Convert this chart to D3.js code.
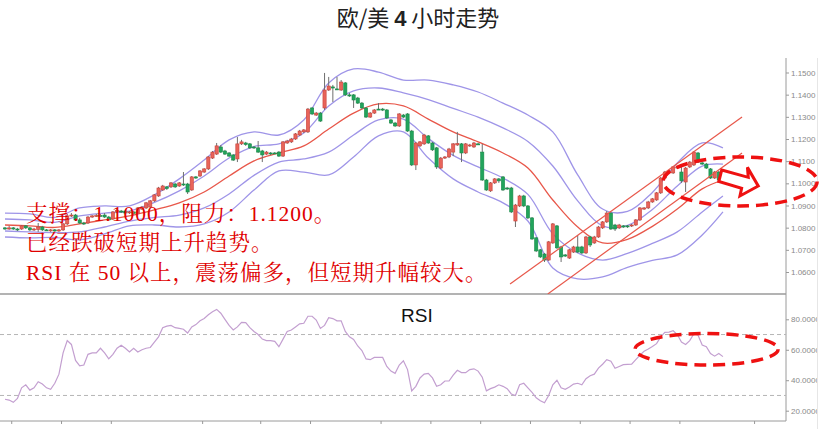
<!DOCTYPE html>
<html><head><meta charset="utf-8">
<script src="https://cdn.jsdelivr.net/npm/d3@7"></script>
<style>body{margin:0;background:#fff}svg{display:block}</style>
</head><body><svg id="c" width="836" height="429"></svg>
<script>
// ---------------- data ----------------
const priceTicks = [1.06,1.07,1.08,1.09,1.10,1.11,1.12,1.13,1.14,1.15];
const rsiTicks = [20,40,60,80];
const rsiLevels = [70,30];
const dayTicks = [1.5,13.5,25.5,47.5,61.5,73.5,90.5,102.5,114.5,126.5,138.5,150.5,162.5,180.5];

const opens = [1.0799,1.0794,1.0799,1.0794,1.0794,1.0808,1.0799,1.0790,1.0792,1.0803,
1.0790,1.0787,1.0790,1.0785,1.0790,1.0817,1.0853,1.0857,1.0835,1.0821,
1.0821,1.0848,1.0853,1.0855,1.0857,1.0848,1.0839,1.0871,1.0875,1.0875,
1.0869,1.0871,1.0866,1.0884,1.0889,1.0893,1.0921,1.0943,1.0970,1.0984,
1.0984,1.0997,1.0988,1.0997,1.0997,1.0970,1.1029,1.1033,1.1051,1.1065,
1.1114,1.1132,1.1164,1.1146,1.1137,1.1128,1.1110,1.1178,1.1182,1.1178,
1.1164,1.1160,1.1146,1.1132,1.1137,1.1137,1.1141,1.1123,1.1182,1.1187,
1.1200,1.1218,1.1232,1.1232,1.1340,1.1308,1.1317,1.1340,1.1421,1.1435,
1.1426,1.1421,1.1453,1.1399,1.1399,1.1385,1.1362,1.1340,1.1299,1.1317,
1.1335,1.1335,1.1331,1.1286,1.1272,1.1259,1.1308,1.1313,1.1236,1.1083,
1.1169,1.1178,1.1214,1.1182,1.1160,1.1069,1.1114,1.1119,1.1141,1.1173,
1.1178,1.1137,1.1169,1.1164,1.1178,1.1141,1.1015,1.0966,1.1002,1.1020,
1.1029,1.0979,1.0979,1.0830,1.0898,1.0943,1.0898,1.0844,1.0754,1.0700,
1.0681,1.0654,1.0731,1.0808,1.0713,1.0677,1.0663,1.0690,1.0713,1.0713,
1.0686,1.0758,1.0731,1.0758,1.0799,1.0826,1.0866,1.0812,1.0799,1.0808,
1.0808,1.0808,1.0812,1.0835,1.0884,1.0889,1.0916,1.0925,1.0957,1.1024,
1.1051,1.1047,1.1069,1.1051,1.1006,1.1074,1.1083,1.1137,1.1092,1.1087,
1.1065,1.1024,1.1051,1.1033];

const closes = [1.0794,1.0799,1.0794,1.0792,1.0808,1.0799,1.0790,1.0794,1.0803,1.0790,
1.0787,1.0790,1.0785,1.0790,1.0817,1.0853,1.0857,1.0835,1.0821,1.0819,
1.0848,1.0853,1.0855,1.0853,1.0848,1.0835,1.0871,1.0878,1.0871,1.0866,
1.0871,1.0864,1.0889,1.0893,1.0912,1.0921,1.0948,1.0979,1.0988,1.0977,
1.1002,1.0984,1.1002,1.0993,1.0961,1.1029,1.1024,1.1056,1.1065,1.1119,
1.1141,1.1169,1.1141,1.1132,1.1123,1.1105,1.1178,1.1187,1.1175,1.1160,
1.1160,1.1141,1.1128,1.1141,1.1135,1.1136,1.1123,1.1187,1.1191,1.1200,
1.1223,1.1236,1.1241,1.1335,1.1313,1.1317,1.1281,1.1421,1.1439,1.1430,
1.1423,1.1457,1.1399,1.1394,1.1376,1.1362,1.1340,1.1299,1.1317,1.1331,
1.1333,1.1331,1.1295,1.1272,1.1259,1.1313,1.1299,1.1236,1.1083,1.1182,
1.1187,1.1218,1.1182,1.1151,1.1074,1.1114,1.1119,1.1155,1.1178,1.1180,
1.1137,1.1178,1.1173,1.1182,1.1175,1.1015,1.0970,1.1002,1.1020,1.1011,
1.0970,1.0975,1.0871,1.0902,1.0943,1.0898,1.0844,1.0749,1.0695,1.0668,
1.0654,1.0736,1.0817,1.0709,1.0668,1.0672,1.0700,1.0713,1.0690,1.0686,
1.0758,1.0722,1.0758,1.0803,1.0826,1.0866,1.0794,1.0794,1.0812,1.0803,
1.0806,1.0812,1.0835,1.0889,1.0889,1.0916,1.0930,1.0957,1.1024,1.1051,
1.1056,1.1074,1.1074,1.1011,1.1069,1.1096,1.1141,1.1096,1.1087,1.1069,
1.1024,1.1051,1.1015,1.1031];

const highs = [1.0803,1.0808,1.0803,1.0799,1.0812,1.0812,1.0803,1.0799,1.0821,1.0808,
1.0794,1.0794,1.0794,1.0794,1.0821,1.0862,1.0866,1.0862,1.0844,1.0826,
1.0853,1.0857,1.0862,1.0862,1.0866,1.0853,1.0875,1.0884,1.0880,1.0880,
1.0875,1.0875,1.0893,1.0898,1.0916,1.0925,1.0952,1.0984,1.0993,1.0988,
1.1006,1.1002,1.1006,1.1051,1.1002,1.1033,1.1033,1.1060,1.1069,1.1123,
1.1146,1.1182,1.1173,1.1151,1.1141,1.1132,1.1209,1.1196,1.1187,1.1182,
1.1169,1.1191,1.1151,1.1146,1.1141,1.1141,1.1146,1.1191,1.1196,1.1205,
1.1227,1.1241,1.1245,1.1340,1.1344,1.1322,1.1322,1.1498,1.1480,1.1444,
1.1480,1.1466,1.1457,1.1408,1.1403,1.1390,1.1367,1.1344,1.1322,1.1335,
1.1362,1.1340,1.1335,1.1290,1.1277,1.1317,1.1313,1.1317,1.1241,1.1187,
1.1191,1.1223,1.1218,1.1187,1.1164,1.1119,1.1123,1.1160,1.1182,1.1232,
1.1182,1.1182,1.1178,1.1187,1.1182,1.1178,1.1020,1.1006,1.1024,1.1024,
1.1033,1.0984,1.0984,1.0907,1.0948,1.0948,1.0902,1.0848,1.0758,1.0704,
1.0686,1.0740,1.0821,1.0812,1.0718,1.0681,1.0704,1.0718,1.0767,1.0718,
1.0763,1.0763,1.0763,1.0808,1.0830,1.0875,1.0871,1.0817,1.0817,1.0812,
1.0812,1.0817,1.0839,1.0893,1.0893,1.0921,1.0934,1.0961,1.1029,1.1056,
1.1060,1.1078,1.1078,1.1074,1.1074,1.1101,1.1146,1.1141,1.1096,1.1092,
1.1069,1.1056,1.1056,1.1038];

const lows = [1.0790,1.0790,1.0790,1.0785,1.0790,1.0794,1.0785,1.0785,1.0781,1.0785,
1.0785,1.0781,1.0781,1.0781,1.0785,1.0812,1.0848,1.0830,1.0817,1.0812,
1.0817,1.0844,1.0848,1.0848,1.0844,1.0830,1.0835,1.0866,1.0866,1.0862,
1.0862,1.0857,1.0862,1.0880,1.0884,1.0889,1.0916,1.0939,1.0966,1.0970,
1.0979,1.0979,1.0984,1.0988,1.0952,1.0966,1.1020,1.1029,1.1047,1.1060,
1.1110,1.1128,1.1137,1.1128,1.1119,1.1101,1.1096,1.1173,1.1169,1.1155,
1.1155,1.1137,1.1096,1.1128,1.1128,1.1132,1.1119,1.1119,1.1178,1.1182,
1.1196,1.1214,1.1227,1.1227,1.1308,1.1304,1.1277,1.1331,1.1417,1.1367,
1.1421,1.1417,1.1394,1.1390,1.1340,1.1358,1.1335,1.1295,1.1295,1.1313,
1.1331,1.1326,1.1290,1.1268,1.1254,1.1254,1.1295,1.1232,1.1078,1.1060,
1.1164,1.1173,1.1178,1.1146,1.1065,1.1065,1.1110,1.1114,1.1123,1.1169,
1.1096,1.1132,1.1164,1.1160,1.1173,1.1011,1.0966,1.0961,1.0997,1.1002,
1.0966,1.0970,1.0866,1.0803,1.0893,1.0893,1.0839,1.0745,1.0690,1.0663,
1.0645,1.0650,1.0727,1.0704,1.0645,1.0668,1.0659,1.0686,1.0686,1.0681,
1.0681,1.0713,1.0727,1.0754,1.0794,1.0821,1.0790,1.0785,1.0794,1.0799,
1.0799,1.0803,1.0808,1.0830,1.0880,1.0884,1.0912,1.0921,1.0952,1.1020,
1.1047,1.1042,1.1065,1.1002,1.0961,1.1069,1.1078,1.1092,1.1083,1.1065,
1.1020,1.1020,1.1011,1.1029];

// Bollinger bands, read at every 6th candle
const bandIdx = [0,6,12,18,24,30,36,42,48,54,60,66,72,78,84,90,96,102,108,114,120,126,132,138,144,150,156,162,168,173];
const bbUpper2 = [1.0866,1.0862,1.0846,1.0889,1.0898,1.0898,1.0948,1.1020,1.1105,1.1196,1.1232,1.1218,1.1286,1.1453,1.1516,1.1502,1.1466,1.1466,1.1444,1.1412,1.1362,1.1308,1.1232,1.1038,1.0884,1.0873,1.0959,1.1092,1.1182,1.1160];
const bbUpper1 = [1.0839,1.0835,1.0824,1.0853,1.0866,1.0875,1.0914,1.0966,1.1033,1.1114,1.1166,1.1178,1.1227,1.1349,1.1417,1.1430,1.1408,1.1378,1.1338,1.1299,1.1250,1.1189,1.1078,1.0921,1.0808,1.0810,1.0882,1.0988,1.1078,1.1087];
const bbMid    = [1.0812,1.0808,1.0801,1.0817,1.0835,1.0853,1.0880,1.0912,1.0961,1.1033,1.1101,1.1137,1.1169,1.1245,1.1317,1.1358,1.1349,1.1290,1.1232,1.1187,1.1137,1.1069,1.0925,1.0803,1.0731,1.0747,1.0806,1.0884,1.0975,1.1015];
const bbLower1 = [1.0785,1.0781,1.0778,1.0781,1.0803,1.0830,1.0846,1.0857,1.0889,1.0952,1.1036,1.1096,1.1110,1.1141,1.1218,1.1286,1.1290,1.1202,1.1126,1.1074,1.1024,1.0950,1.0772,1.0686,1.0654,1.0684,1.0729,1.0781,1.0871,1.0943];
const bbLower2 = [1.0758,1.0754,1.0756,1.0745,1.0772,1.0808,1.0812,1.0803,1.0817,1.0871,1.0970,1.1056,1.1051,1.1038,1.1119,1.1214,1.1232,1.1114,1.1020,1.0961,1.0912,1.0830,1.0618,1.0569,1.0578,1.0621,1.0652,1.0677,1.0767,1.0871];

const rsi = [27.5,27,25.5,28,35,37,33.5,35,39,37.5,
35,34,38,44,58,66,63.5,53,49.5,50,
57,58,58,61,58,54,57,61,63,61,
58.5,61,58.5,60,61,61.5,65,68.5,74.5,75.5,
76,74.5,74,73.5,71,75,76.5,79,80.5,83,
85,86.5,84,80,76,73,75,78,77.8,74.5,
72,70,67,66,66,65.5,62,67,72,73,
75,77,77.4,82,82,79.5,74,76,81,80.5,
79,79,72,68.5,66.8,62.5,59.5,54,53.5,55,
55,55,49,46,44.5,50,52.8,47,33,36,
41.5,44,44.5,41.5,36,37,39.5,39.5,43.4,46.5,
45,45,47,47.5,46,42,33,34.5,35.5,37,
36,34.5,31,30,37,38,35,32,28.5,26.5,
25.2,30,37,40,35,34,35.5,37.5,38,37,
41,43,44,48,50.5,53.5,52.5,47.8,49,50.2,
50.4,50.6,53.5,56.5,59,60.5,62.2,64,68.5,71.4,
71.6,72.5,70,65,63.5,66,70.5,69.5,63.1,62,
57.5,55.8,57.5,55.5];

// annotations (in candle index / price units)
const channelLines = [[[121.7,1.0546],[177.6,1.1299]], [[130.8,1.0501],[177.6,1.1137]]];
const focusBox = {i0:158.6, i1:195.7, top:1.1119, bottom:1.0898};
const rsiFocusBox = {i0:151.8, i1:186.3, top:70.7, bottom:50.0};
const arrowPts = [[172.7,1.1060],[179.1,1.1027],[178.9,1.1072],[181.5,1.0988],[177.1,1.0943],[177.5,1.0978],[172.0,1.1008]];
const title = ["欧/美 ", "4", " 小时走势"];
const notes = ["支撑：1.1000，阻力：1.1200。", "已经跌破短期上升趋势。", "RSI 在 50 以上，震荡偏多，但短期升幅较大。"];

// ---------------- drawing ----------------
const svg = d3.select('#c');
const plotL = 0, plotR = 786, mainTop = 58, mainBot = 294, rsiBot = 421;
const x = d3.scaleLinear().domain([0, 173]).range([5, 5 + 173 * 4.15]);
const y = d3.scaleLinear().domain([1.06, 1.15]).range([272, 72.5]);
const yr = d3.scaleLinear().domain([20, 80]).range([410.7, 319.3]);

svg.append('rect').attr('width', 836).attr('height', 429).attr('fill', '#fff');
const defs = svg.append('defs');
defs.append('clipPath').attr('id', 'cm').append('rect').attr('x', plotL).attr('y', mainTop).attr('width', plotR - plotL).attr('height', mainBot - mainTop);
defs.append('clipPath').attr('id', 'cr').append('rect').attr('x', plotL).attr('y', mainBot).attr('width', plotR - plotL).attr('height', rsiBot - mainBot);
defs.append('clipPath').attr('id', 'cl').append('rect').attr('x', plotR).attr('y', 40).attr('width', 31).attr('height', 400);

// title
const t = svg.append('text').attr('x', 418).attr('y', 26).attr('text-anchor', 'middle')
  .attr('font-family', '"Noto Sans CJK SC", sans-serif').attr('font-size', 22).attr('fill', '#222');
t.append('tspan').text(title[0]);
t.append('tspan').attr('font-weight', 'bold').attr('font-family', '"Liberation Sans", Arial, sans-serif').text(title[1]);
t.append('tspan').text(title[2]);

// frame lines
svg.append('line').attr('x1', plotR).attr('x2', plotR).attr('y1', mainTop).attr('y2', rsiBot).attr('stroke', '#9a9a9a').attr('stroke-width', 1);
svg.append('line').attr('x1', 817.5).attr('x2', 817.5).attr('y1', mainTop).attr('y2', 429).attr('stroke', '#e6e6e6').attr('stroke-width', 1);
svg.append('line').attr('x1', 0).attr('x2', plotR).attr('y1', mainBot).attr('y2', mainBot).attr('stroke', '#9a9a9a').attr('stroke-width', 1.5);
svg.append('line').attr('x1', 0).attr('x2', plotR).attr('y1', rsiBot).attr('y2', rsiBot).attr('stroke', '#9a9a9a').attr('stroke-width', 1);

// main panel
const gm = svg.append('g').attr('clip-path', 'url(#cm)');
const bandLine = arr => d3.line().x((d, k) => x(bandIdx[k])).y(d => y(d)).curve(d3.curveCatmullRom.alpha(0.5))(arr);
[bbUpper2, bbUpper1, bbLower1, bbLower2].forEach(arr => {
  gm.append('path').attr('d', bandLine(arr)).attr('fill', 'none').attr('stroke', '#9f95e8').attr('stroke-width', 1.3);
});
gm.append('path').attr('d', bandLine(bbMid)).attr('fill', 'none').attr('stroke', '#e8574a').attr('stroke-width', 1.3);

const candles = opens.map((o, i) => ({i, o, c: closes[i], h: highs[i], l: lows[i]}));
const cg = gm.append('g');
cg.selectAll('line.w').data(candles).join('line').attr('class', 'w')
  .attr('x1', d => x(d.i)).attr('x2', d => x(d.i))
  .attr('y1', d => y(d.h)).attr('y2', d => y(d.l))
  .attr('stroke', '#6f6f6f').attr('stroke-width', 1);
cg.selectAll('rect.b').data(candles).join('rect').attr('class', 'b')
  .attr('x', d => x(d.i) - 1.6).attr('width', 3.2)
  .attr('y', d => y(Math.max(d.o, d.c)))
  .attr('height', d => Math.max(1, y(Math.min(d.o, d.c)) - y(Math.max(d.o, d.c))))
  .attr('fill', d => d.c >= d.o ? '#e8645a' : '#22a45c')
  .attr('stroke', d => d.c >= d.o ? '#c8423a' : '#178a47').attr('stroke-width', 0.6);

channelLines.forEach(seg => {
  gm.append('line').attr('x1', x(seg[0][0])).attr('y1', y(seg[0][1])).attr('x2', x(seg[1][0])).attr('y2', y(seg[1][1]))
    .attr('stroke', '#e8574a').attr('stroke-width', 1.2);
});

// RSI panel
const gr = svg.append('g').attr('clip-path', 'url(#cr)');
rsiLevels.forEach(v => {
  gr.append('line').attr('x1', 0).attr('x2', plotR).attr('y1', yr(v)).attr('y2', yr(v))
    .attr('stroke', '#b5b5b5').attr('stroke-width', 1).attr('stroke-dasharray', '4,3');
});
gr.append('path').attr('d', d3.line().x((d, i) => x(i)).y(d => yr(d))(rsi))
  .attr('fill', 'none').attr('stroke', '#c39fd0').attr('stroke-width', 1.2);
svg.append('text').attr('x', 401).attr('y', 322).attr('font-family', '"Liberation Sans", Arial, sans-serif')
  .attr('font-size', 19).attr('fill', '#111').text('RSI');

// axes
const gl = svg.append('g').attr('clip-path', 'url(#cl)');
const axP = gl.append('g').attr('transform', `translate(${plotR},0)`)
  .call(d3.axisRight(y).tickValues(priceTicks).tickFormat(d3.format('.4f')).tickSize(3).tickPadding(2));
const axR = gl.append('g').attr('transform', `translate(${plotR},0)`)
  .call(d3.axisRight(yr).tickValues(rsiTicks).tickFormat(d3.format('.4f')).tickSize(3).tickPadding(2));
[axP, axR].forEach(a => {
  a.select('.domain').remove();
  a.selectAll('line').attr('stroke', '#999');
  a.selectAll('text').attr('font-family', '"Liberation Sans", Arial, sans-serif').attr('font-size', 8).attr('fill', '#8a8a8a');
});
const axB = svg.append('g').attr('transform', `translate(0,${rsiBot})`)
  .call(d3.axisBottom(x).tickValues(dayTicks).tickFormat('').tickSize(3));
axB.select('.domain').remove();
axB.selectAll('line').attr('stroke', '#999');

// notes
const ng = svg.append('g').attr('font-family', '"Liberation Serif", "Noto Serif CJK SC", serif')
  .attr('font-size', 21.5).attr('fill', '#e00000').attr('letter-spacing', 1);
notes.forEach((s, k) => ng.append('text').attr('x', 26).attr('y', 221 + k * 29.3).text(s));

// focus ellipses and arrow
const red = '#ee1111';
svg.append('ellipse')
  .attr('cx', (x(focusBox.i0) + x(focusBox.i1)) / 2).attr('cy', (y(focusBox.top) + y(focusBox.bottom)) / 2)
  .attr('rx', (x(focusBox.i1) - x(focusBox.i0)) / 2).attr('ry', (y(focusBox.bottom) - y(focusBox.top)) / 2)
  .attr('fill', 'none').attr('stroke', red).attr('stroke-width', 3.5).attr('stroke-dasharray', '12,7');
svg.append('ellipse')
  .attr('cx', (x(rsiFocusBox.i0) + x(rsiFocusBox.i1)) / 2).attr('cy', (yr(rsiFocusBox.top) + yr(rsiFocusBox.bottom)) / 2)
  .attr('rx', (x(rsiFocusBox.i1) - x(rsiFocusBox.i0)) / 2).attr('ry', (yr(rsiFocusBox.bottom) - yr(rsiFocusBox.top)) / 2)
  .attr('fill', 'none').attr('stroke', red).attr('stroke-width', 3.5).attr('stroke-dasharray', '12,7');
svg.append('polygon').attr('points', arrowPts.map(p => [x(p[0]), y(p[1])].join(',')).join(' '))
  .attr('fill', '#fff').attr('stroke', red).attr('stroke-width', 3).attr('stroke-linejoin', 'miter');
</script></body></html>
